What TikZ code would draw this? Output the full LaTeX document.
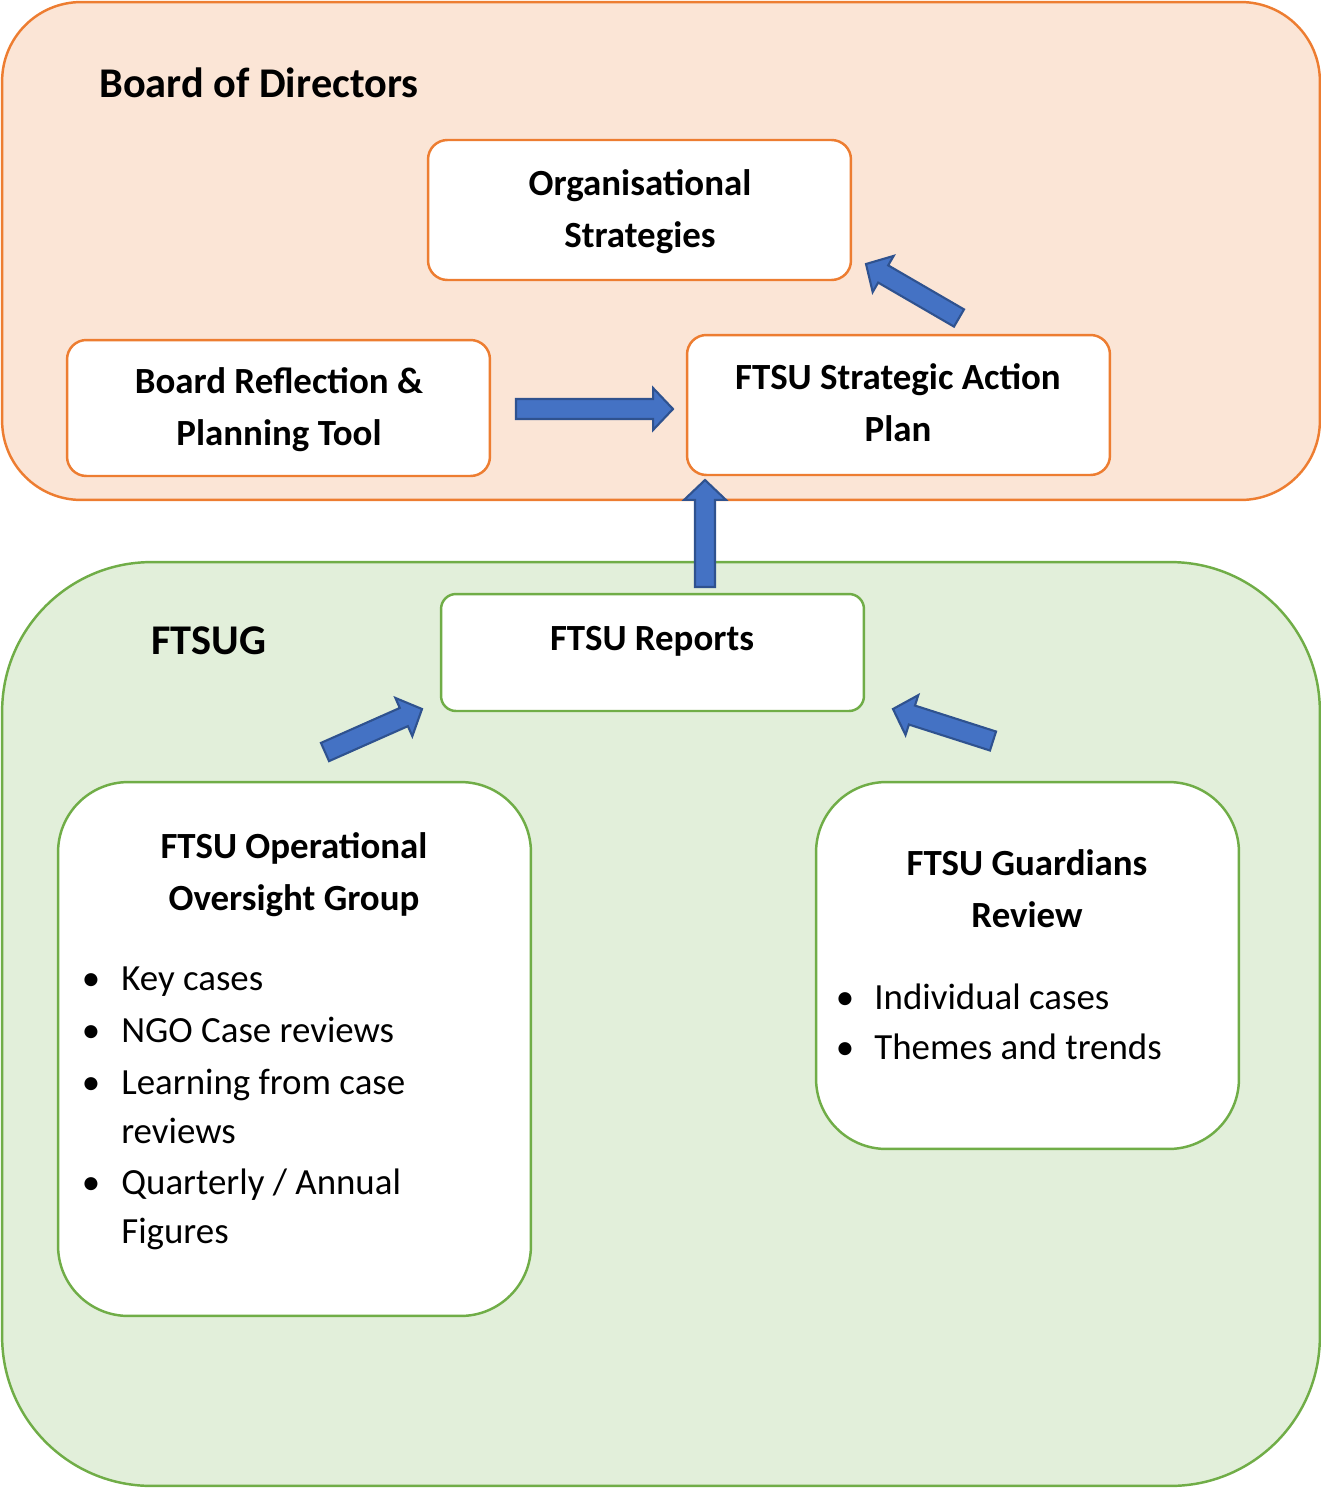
\documentclass[tikz,border=0pt]{standalone}
\usepackage{fontspec}
\setmainfont{Carlito}
\usetikzlibrary{calc}
\definecolor{orfill}{HTML}{FBE5D6}
\definecolor{orline}{HTML}{ED7D31}
\definecolor{grfill}{HTML}{E2EFDA}
\definecolor{grline}{HTML}{70AD47}
\definecolor{arfill}{HTML}{4472C4}
\definecolor{arline}{HTML}{2F528F}
\newcommand{\blockarrow}[2]{%
  \coordinate (ah) at ($(#2)!11.3pt!(#1)$);
  \draw[barrow] ($(#1)!5.67pt!90:(#2)$) -- ($(ah)!5.67pt!90:(#2)$) -- ($(ah)!11.9pt!90:(#2)$) -- (#2)
    -- ($(ah)!11.9pt!-90:(#2)$) -- ($(ah)!5.67pt!-90:(#2)$) -- ($(#1)!5.67pt!-90:(#2)$) -- cycle;}
\tikzset{
  panel/.style={rectangle, inner sep=0pt, outer sep=0pt, line width=1.4pt},
  obox/.style={panel, draw=orline, fill=white, rounded corners=11pt, minimum width=8.46cm},
  gbox/.style={panel, draw=grline, fill=white},
  barrow/.style={fill=arfill, draw=arline, line width=1.2pt, line join=miter},
  head/.style={font=\fontsize{24.1}{29}\selectfont\bfseries, anchor=base west, inner sep=0pt},
  ttl/.style={font=\fontsize{21}{29.5}\selectfont\bfseries, anchor=base, inner sep=0pt},
  itm/.style={font=\fontsize{21}{29.5}\selectfont, anchor=base west, inner sep=0pt},
  bul/.style={font=\fontsize{21}{29.5}\selectfont, anchor=base, inner sep=0pt},
}
\begin{document}
\begin{tikzpicture}[x=0.02cm, y=-0.02cm]
\useasboundingbox (0,0) rectangle (1321,1488);
% panels
\node[panel, draw=orline, fill=orfill, rounded corners=45pt, minimum width=26.36cm, minimum height=9.96cm] (board) at (661,251) {};
\node[panel, draw=grline, fill=grfill, rounded corners=85pt, minimum width=26.36cm, minimum height=18.48cm] (ftsug) at (661,1024) {};
\node[head] (boardlbl) at (99,97) {Board of Directors};
\node[head] (ftsuglbl) at (151,654) {FTSUG};
% boxes
\node[obox, minimum height=2.8cm] (org) at (639.5,210) {};
\node[ttl] (org1) at (640,195) {Organisational};
\node[ttl] (org2) at (640,247) {Strategies};
\node[obox, minimum height=2.72cm] (brt) at (278.5,408) {};
\node[ttl] (brt1) at (279,393) {Board Reflection \&};
\node[ttl] (brt2) at (279,445) {Planning Tool};
\node[obox, minimum height=2.8cm] (sap) at (898.5,405) {};
\node[ttl] (sap1) at (898,389) {FTSU Strategic Action};
\node[ttl] (sap2) at (898,441) {Plan};
\node[gbox, rounded corners=8.5pt, minimum width=8.46cm, minimum height=2.34cm] (rep) at (652.5,652.5) {};
\node[ttl] (rep1) at (652,650) {FTSU Reports};
\node[gbox, rounded corners=40pt, minimum width=9.46cm, minimum height=10.68cm] (op) at (294.5,1049) {};
\node[ttl] (op1) at (294,858) {FTSU Operational};
\node[ttl] (op2) at (294,910) {Oversight Group};
\foreach \y/\t in {990/{Key cases}, 1042/{NGO Case reviews}, 1094/{Learning from case}, 1194/{Quarterly / Annual}}
  {\node[bul] at (91,\y) {\textbullet}; \node[itm] at (121,\y) {\t};}
\node[itm] (op3) at (121,1143) {reviews};
\node[itm] (op4) at (121,1243) {Figures};
\node[gbox, rounded corners=40pt, minimum width=8.46cm, minimum height=7.34cm] (grd) at (1027.5,965.5) {};
\node[ttl] (grd1) at (1027,875) {FTSU Guardians};
\node[ttl] (grd2) at (1027,927) {Review};
\foreach \y/\t in {1009/{Individual cases}, 1059/{Themes and trends}}
  {\node[bul] at (845,\y) {\textbullet}; \node[itm] at (874,\y) {\t};}
% arrows
\coordinate (a1s) at (516,409); \coordinate (a1e) at (673,409);
\coordinate (a2s) at (959,318); \coordinate (a2e) at (866,264);
\coordinate (a3s) at (705,587); \coordinate (a3e) at (705,480);
\coordinate (a4s) at (325,752); \coordinate (a4e) at (422,709);
\coordinate (a5s) at (993,741); \coordinate (a5e) at (893,709);
\blockarrow{a1s}{a1e}
\blockarrow{a2s}{a2e}
\blockarrow{a3s}{a3e}
\blockarrow{a4s}{a4e}
\blockarrow{a5s}{a5e}
\end{tikzpicture}
\end{document}
